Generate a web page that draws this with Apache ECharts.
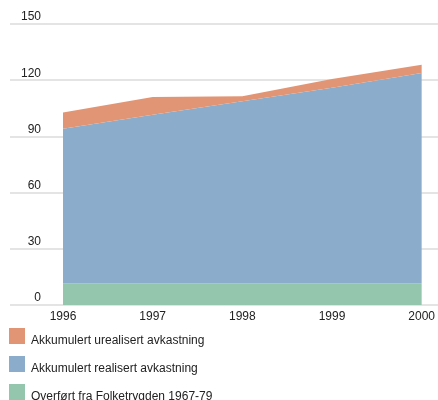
<!DOCTYPE html>
<html>
<head>
<meta charset="utf-8">
<script src="https://cdn.jsdelivr.net/npm/echarts@6/dist/echarts.min.js"></script>
<style>
  html, body { margin: 0; padding: 0; background: #fff; }
  #chart { width: 438px; height: 400px; }
</style>
</head>
<body>
<div id="chart"></div>
<script>
// Years on the horizontal axis
const years = ['1996', '1997', '1998', '1999', '2000'];

// Stacked components (milliarder kroner)
const overfort = [11.6, 11.6, 11.6, 11.6, 11.6];
const realisert = [82.5, 90.0, 97.1, 104.4, 112.3];
const urealisert = [8.7, 9.4, 2.7, 4.7, 4.4];

const seriesNames = [
  'Akkumulert urealisert avkastning',
  'Akkumulert realisert avkastning',
  'Overført fra Folketrygden 1967-79'
];

const colors = {
  urealisert: '#e29574',
  realisert: '#8badcb',
  overfort: '#94c5ad'
};

const font = 'Liberation Sans, Arial, Helvetica, sans-serif';
const chart = echarts.init(document.getElementById('chart'));

function areaSeries(name, data, color) {
  return {
    name: name,
    type: 'line',
    xAxisIndex: 1,
    yAxisIndex: 1,
    stack: 'total',
    data: data,
    showSymbol: false,
    symbol: 'none',
    lineStyle: { width: 0 },
    itemStyle: { color: color },
    areaStyle: { color: color, opacity: 1 },
    emphasis: { disabled: true }
  };
}

chart.setOption({
  animation: false,
  textStyle: { fontFamily: font },
  grid: [
    { left: 10, right: 0, top: 24, height: 281 },
    { left: 63, right: 15, top: 24, height: 281 }
  ],
  xAxis: [
    { type: 'value', gridIndex: 0, show: false, min: 0, max: 1 },
    {
      type: 'category',
      gridIndex: 1,
      data: years,
      boundaryGap: false,
      axisLine: { show: false },
      axisTick: { show: false },
      axisLabel: { color: '#222', fontSize: 12, fontFamily: font, margin: 6 }
    }
  ],
  yAxis: [
    {
      type: 'value',
      gridIndex: 0,
      min: 0,
      max: 150,
      interval: 30,
      axisLine: { show: false },
      axisTick: { show: false },
      axisLabel: {
        inside: true,
        align: 'right',
        verticalAlign: 'bottom',
        margin: 31,
        padding: [0, 0, 1, 0],
        color: '#222',
        fontSize: 12,
        fontFamily: font
      },
      splitLine: { show: true, lineStyle: { color: '#e4e4e4', width: 2 } }
    },
    {
      type: 'value',
      gridIndex: 1,
      min: 0,
      max: 150,
      interval: 30,
      show: false,
      splitLine: { show: false }
    }
  ],
  legend: {
    orient: 'vertical',
    left: 9,
    top: 328,
    height: 120,
    padding: 0,
    itemWidth: 16,
    itemHeight: 16,
    itemGap: 9,
    itemStyle: { borderWidth: 0 },
    icon: 'rect',
    data: seriesNames,
    selectedMode: false,
    formatter: '{t|{name}}',
    textStyle: {
      color: '#222',
      fontSize: 12,
      fontFamily: font,
      rich: {
        t: { color: '#222', fontSize: 12, fontFamily: font, padding: [10, 0, 0, 1] }
      }
    }
  },
  series: [
    areaSeries(seriesNames[2], overfort, colors.overfort),
    areaSeries(seriesNames[1], realisert, colors.realisert),
    areaSeries(seriesNames[0], urealisert, colors.urealisert)
  ]
});
</script>
</body>
</html>
